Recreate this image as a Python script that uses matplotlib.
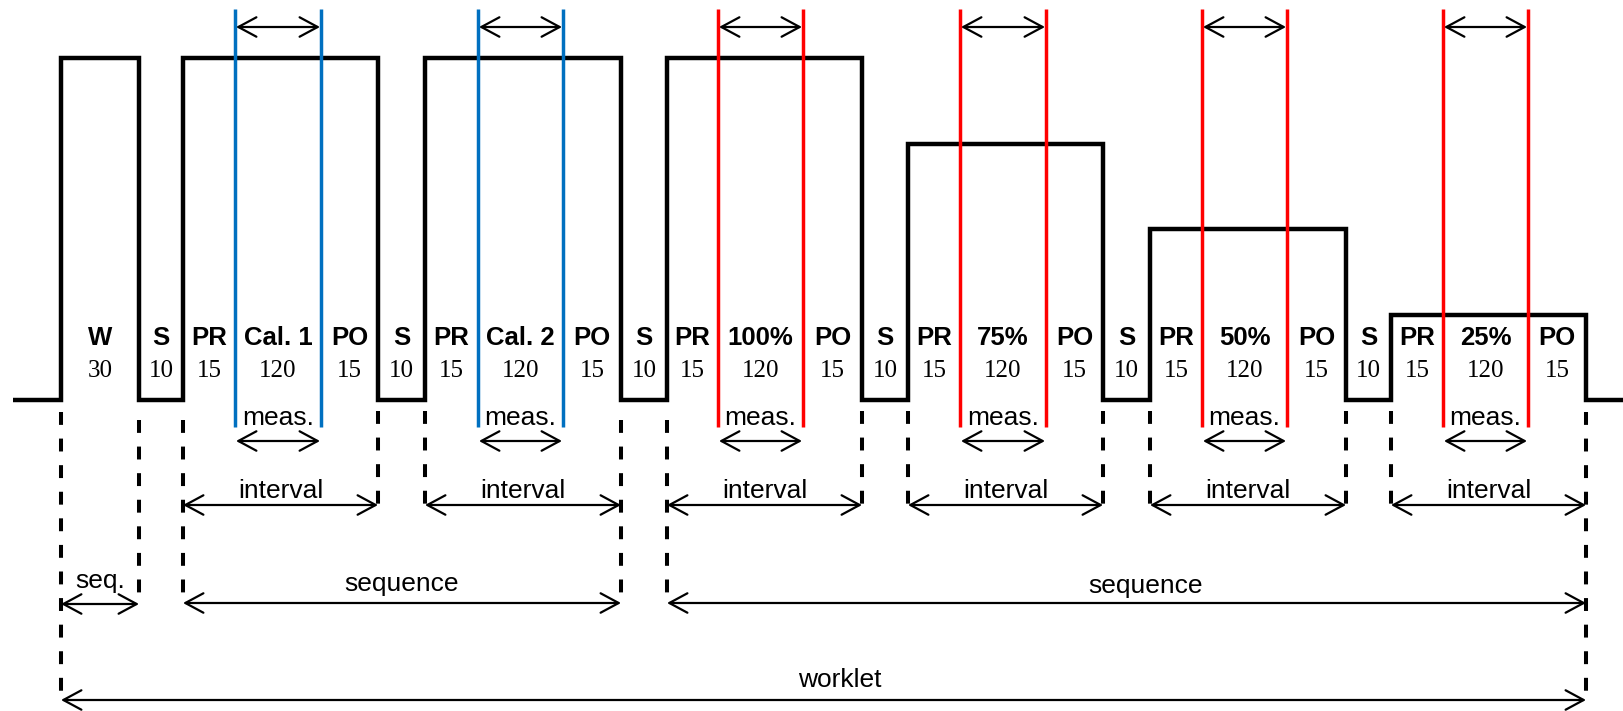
import matplotlib.pyplot as plt

# phase labels and durations (seconds)
warmup_label = "W"
warmup_dur = 30
sleep_label = "S"
sleep_dur = 10
pre_label, pre_dur = "PR", 15
post_label, post_dur = "PO", 15
meas_dur = 120
interval_names = ["Cal. 1", "Cal. 2", "100%", "75%", "50%", "25%"]
interval_load = [100, 100, 100, 75, 50, 25]  # % of full load
interval_color = ["#0070C0", "#0070C0", "#FF0000", "#FF0000", "#FF0000", "#FF0000"]

# phase boundaries (pixels, not to time scale)
warmup_span = (61, 139)
interval_start = [183, 425, 667, 908, 1150, 1391]
meas_start = [235, 478, 718, 960, 1202, 1443]
meas_end = [321, 563, 803, 1046, 1287, 1528]
interval_end = [378, 621, 862, 1103, 1346, 1586]

W, H = 1624, 711
base_y = 400
top_y = 58
def load_y(p):
    return base_y - (base_y - top_y) * p / 100.0

fig = plt.figure(figsize=(W / 100, H / 100), dpi=100)
ax = fig.add_axes([0, 0, 1, 1])
ax.set_xlim(0, W)
ax.set_ylim(H, 0)
ax.axis('off')

bold_font = dict(family='Liberation Sans', weight='bold', size=18.5)
num_font = dict(family='Liberation Serif', size=18)
sans_font = dict(family='Liberation Sans', size=19)
lbl_y = 345
num_y = 377

# load profile step line
xs = [13, warmup_span[0], warmup_span[0], warmup_span[1], warmup_span[1]]
ys = [load_y(0), load_y(0), load_y(100), load_y(100), load_y(0)]
for s, e, p in zip(interval_start, interval_end, interval_load):
    xs += [s, s, e, e]
    ys += [load_y(0), load_y(p), load_y(p), load_y(0)]
xs.append(W)
ys.append(load_y(0))
ax.plot(xs, ys, color='black', lw=3.2, solid_joinstyle='miter', solid_capstyle='butt')

def dbl_arrow(x0, x1, y):
    ax.annotate('', xy=(x1, y), xytext=(x0, y),
                arrowprops=dict(arrowstyle='<->,head_length=0.65,head_width=0.35',
                                lw=1.6, color='black', shrinkA=0, shrinkB=0,
                                mutation_scale=20))

def dashed(x, y0, y1):
    ax.plot([x, x], [y0, y1], color='black', lw=2.9, dashes=(3.2, 3.4))

def phase_text(x0, x1, name, dur):
    xc = (x0 + x1) / 2
    ax.text(xc, lbl_y, name, ha='center', va='baseline', **bold_font)
    ax.text(xc, num_y, str(dur), ha='center', va='baseline', **num_font)

# warm-up
phase_text(warmup_span[0], warmup_span[1], warmup_label, warmup_dur)
sleep_starts = [warmup_span[1]] + interval_end[:-1]
for ss, s in zip(sleep_starts, interval_start):
    phase_text(ss, s, sleep_label, sleep_dur)

for i in range(len(interval_names)):
    s, ms, me, e = interval_start[i], meas_start[i], meas_end[i], interval_end[i]
    phase_text(s, ms, pre_label, pre_dur)
    phase_text(ms, me, interval_names[i], meas_dur)
    phase_text(me, e, post_label, post_dur)
    for x in (ms, me):
        ax.plot([x, x], [9, 427], color=interval_color[i], lw=2.5, solid_capstyle='butt')
    dbl_arrow(ms + 1, me - 1, 27)
    ax.text((ms + me) / 2, 425, "meas.", ha='center', va='baseline', **sans_font)
    dbl_arrow(ms + 1, me - 1, 441)
    ax.text((s + e) / 2, 498, "interval", ha='center', va='baseline', **sans_font)
    dbl_arrow(s, e, 505)

# dashed guide lines
for x in interval_end[:-1] + interval_start[1:]:
    pass
for x in [interval_end[0], interval_start[1]] + interval_end[2:5] + interval_start[3:6]:
    dashed(x, 411, 505)
for x in [warmup_span[1], interval_start[0], interval_end[1], interval_start[2]]:
    dashed(x, 420, 604)
for x in [warmup_span[0], interval_end[-1]]:
    dashed(x, 412, 701)

# sequences and worklet
dbl_arrow(warmup_span[0], warmup_span[1], 604)
ax.text(sum(warmup_span) / 2, 588, "seq.", ha='center', va='baseline', **sans_font)
dbl_arrow(interval_start[0], interval_end[1], 603)
ax.text(402, 591, "sequence", ha='center', va='baseline', **sans_font)
dbl_arrow(interval_start[2], interval_end[-1], 603)
ax.text(1146, 593, "sequence", ha='center', va='baseline', **sans_font)
dbl_arrow(warmup_span[0], interval_end[-1], 700)
ax.text(840, 687, "worklet", ha='center', va='baseline', **sans_font)

fig.savefig('out.png', dpi=100)
